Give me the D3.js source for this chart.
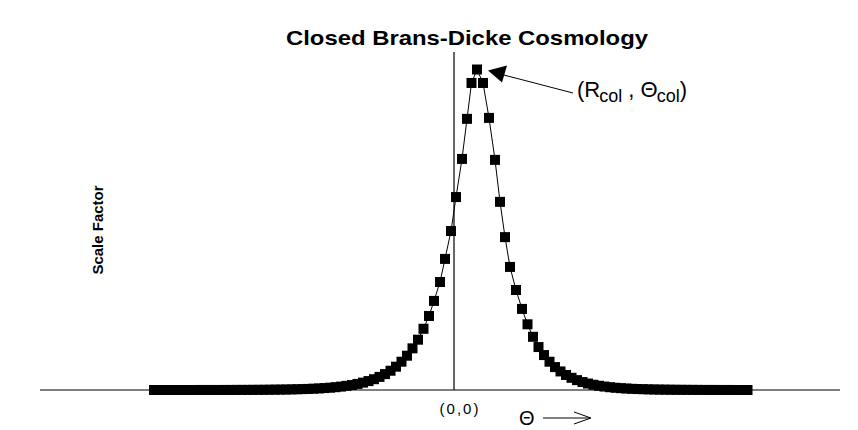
<!DOCTYPE html>
<html><head><meta charset="utf-8">
<script src="https://cdn.jsdelivr.net/npm/d3@7"></script>
<style>
body{margin:0;background:#fff;}
text{font-family:"Liberation Sans",Arial,Helvetica,sans-serif;fill:#000;}
</style></head>
<body><svg id="chart" width="858" height="430"></svg>
<script>
// Theta (horizontal) values of the computed points
const theta = [
 -3.0,-2.945,-2.89,-2.835,-2.78,-2.725,-2.67,-2.615,-2.56,-2.505,
 -2.45,-2.395,-2.34,-2.285,-2.23,-2.175,-2.12,-2.065,-2.01,-1.955,
 -1.9,-1.845,-1.79,-1.735,-1.68,-1.625,-1.57,-1.515,-1.46,-1.405,
 -1.35,-1.295,-1.24,-1.185,-1.13,-1.075,-1.02,-0.965,-0.91,-0.855,
 -0.8,-0.745,-0.69,-0.635,-0.58,-0.525,-0.47,-0.415,-0.36,-0.305,
 -0.25,-0.2,-0.14,-0.09,-0.03,0.02,0.08,0.13,0.175,
 0.23,
 0.29,0.35,0.41,0.46,0.51,0.56,0.62,0.68,
 0.735,0.79,0.845,0.9,0.955,1.01,1.065,1.12,1.175,1.23,
 1.285,1.34,1.395,1.45,1.505,1.56,1.615,1.67,1.725,1.78,
 1.835,1.89,1.945,2.0,2.055,2.11,2.165,2.22,2.275,2.33,
 2.385,2.44,2.495,2.55,2.605,2.66,2.715,2.77,2.825,2.88,2.935
];
// Scale factor values (normalised to the collapse point)
const scaleFactor = [
 0,0,0,0,0,0,0,0,0.0001,0.0001,
 0.0001,0.0001,0.0001,0.0002,0.0002,0.0003,0.0003,0.0004,0.0005,0.0006,
 0.0007,0.0009,0.0011,0.0013,0.0015,0.0019,0.0023,0.0028,0.0034,0.0041,
 0.0049,0.006,0.0072,0.0088,0.0106,0.0129,0.0156,0.0189,0.023,0.0278,
 0.0337,0.0409,0.0496,0.0601,0.0728,0.0883,0.107,0.13,0.157,0.191,
 0.231,0.278,0.337,0.409,0.496,0.602,0.721,0.846,0.958,
 1.0,
 0.958,0.849,0.718,0.587,0.477,0.384,0.312,0.253,
 0.205,0.166,0.134,0.109,0.0882,0.0715,0.0579,0.0469,0.038,0.0308,
 0.0249,0.0202,0.0163,0.0132,0.0107,0.0087,0.007,0.0057,0.0046,0.0037,
 0.003,0.0025,0.002,0.0016,0.0013,0.0011,0.0009,0.0007,0.0006,0.0005,
 0.0004,0.0003,0.0002,0.0002,0.0002,0.0001,0.0001,0.0001,0,0,0
];
const thetaDomain = [-4.14, 3.86];
const scaleDomain = [0, 1];
const collapse = {theta: 0.23, r: 1.0};
const title = "Closed Brans-Dicke Cosmology";
const yLabel = "Scale Factor";
const originLabel = "(0,0)";

const svg = d3.select("#chart");
const x = d3.scaleLinear().domain(thetaDomain).range([40, 840]);
const y = d3.scaleLinear().domain(scaleDomain).range([390, 69.5]);
const pts = theta.map((t, i) => ({t, r: scaleFactor[i]}));

// axes: horizontal line and vertical line through origin
svg.append("line").attr("x1", x(thetaDomain[0])).attr("x2", x(thetaDomain[1]))
  .attr("y1", y(0)).attr("y2", y(0)).attr("stroke", "#000").attr("stroke-width", 1.2);
svg.append("line").attr("x1", x(0)).attr("x2", x(0))
  .attr("y1", y(0)).attr("y2", 52).attr("stroke", "#000").attr("stroke-width", 1.2);

// connecting line
svg.append("path").datum(pts)
  .attr("d", d3.line().x(d => x(d.t)).y(d => y(d.r)))
  .attr("fill", "none").attr("stroke", "#000").attr("stroke-width", 1);

// square markers
const ms = 10;
svg.append("g").selectAll("rect").data(pts).join("rect")
  .attr("x", d => x(d.t) - ms / 2).attr("y", d => y(d.r) - ms / 2)
  .attr("width", ms).attr("height", ms).attr("fill", "#000");

// title
svg.append("text").attr("x", 467).attr("y", 45).attr("text-anchor", "middle")
  .attr("font-size", 21).attr("font-weight", "bold")
  .attr("textLength", 362).attr("lengthAdjust", "spacingAndGlyphs").text(title);

// y label
svg.append("text").attr("transform", "translate(103,230) rotate(-90)")
  .attr("text-anchor", "middle").attr("font-size", 15).attr("font-weight", "bold").text(yLabel);

// origin label
svg.append("text").attr("x", x(0) + 6).attr("y", 414).attr("text-anchor", "middle")
  .attr("font-size", 15).attr("letter-spacing", 2).text(originLabel);

// Theta axis label with arrow
svg.append("text").attr("x", 519).attr("y", 425).attr("font-size", 20).text("Θ");
svg.append("path").attr("d", "M543,418 L590,418 M574,412 L591,418 L574,424")
  .attr("fill", "none").attr("stroke", "#000").attr("stroke-width", 1);

// annotation arrow to collapse point
const tipX = x(collapse.theta) + 11, tipY = y(collapse.r) + 1;
svg.append("line").attr("x1", 573).attr("y1", 93).attr("x2", tipX + 10).attr("y2", tipY + 3)
  .attr("stroke", "#000").attr("stroke-width", 1);
svg.append("path").attr("d", `M${tipX},${tipY} L${tipX + 19},${tipY - 5} L${tipX + 14},${tipY + 12} Z`)
  .attr("fill", "#000");

// annotation label (R_col , Θ_col)
const lab = svg.append("text").attr("x", 577).attr("y", 97).attr("font-size", 22);
lab.append("tspan").text("(R");
lab.append("tspan").attr("font-size", 18).attr("dx", -1).attr("dy", 5).text("col");
lab.append("tspan").attr("dy", -5).text(" , Θ");
lab.append("tspan").attr("font-size", 18).attr("dx", -1).attr("dy", 5).text("col");
lab.append("tspan").attr("dy", -5).text(")");
</script></body></html>
